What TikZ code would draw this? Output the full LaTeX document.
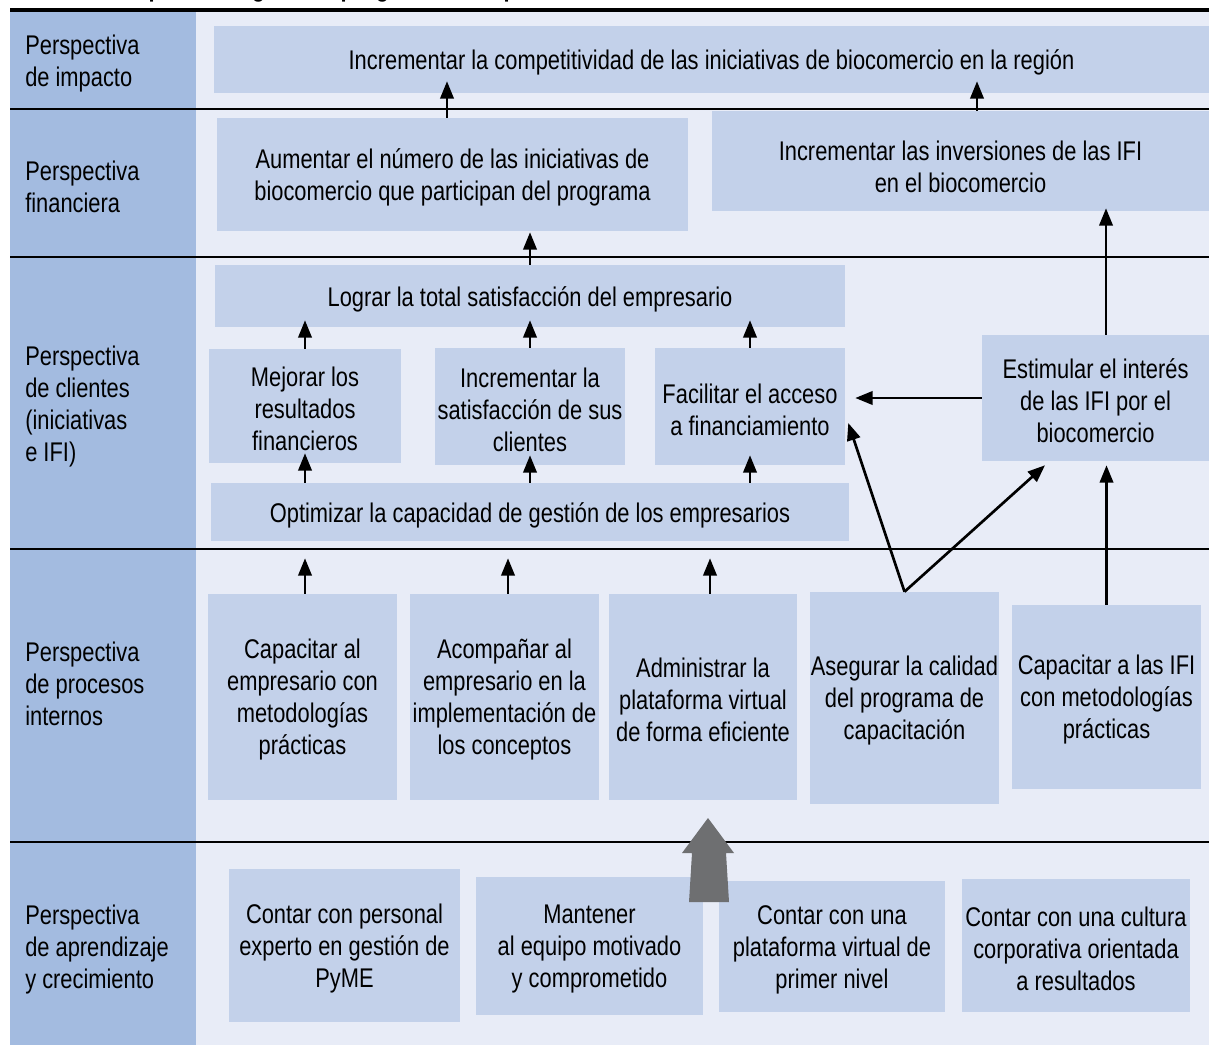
\documentclass[tikz,border=0pt]{standalone}
\usepackage{fontspec}
\setmainfont{Liberation Sans}[FakeStretch=0.81]
\usetikzlibrary{arrows.meta,calc}
\definecolor{leftc}{RGB}{163,187,224}
\definecolor{bgc}{RGB}{232,236,247}
\definecolor{boxc}{RGB}{195,209,234}
\definecolor{bigarrow}{RGB}{110,111,113}
\newcommand{\boxfont}{\fontsize{20.25pt}{24pt}\selectfont}
\tikzset{
  box/.style={fill=boxc, draw=none, inner sep=0pt},
  txt/.style={inner sep=0pt, align=center, font=\boxfont, text=black},
  rowlabel/.style={inner sep=0pt, align=left, anchor=west, font=\boxfont, text=black},
  arr/.style={line width=2pt, -{Triangle[length=13pt,width=10pt]}},
  sepline/.style={line width=1.7pt},
}
% filled box #1 centred at (#2,#3), size #4 x #5, with its text #6
\newcommand{\mapbox}[6]{%
  \node[box, minimum width=#4, minimum height=#5] (#1) at (#2,#3) {};
  \node[txt] (#1t) at ($(#1.center)+(0,3)$) {#6};}
\begin{document}
\begin{tikzpicture}[x=0.75pt, y=-0.75pt]
\useasboundingbox (0,0) rectangle (1209,1045);
% background bands
\fill[white] (0,0) rectangle (1209,1045);
\fill[bgc] (196,10) rectangle (1209,1045);
\fill[leftc] (10,10) rectangle (196,1045);
% title (clipped at the top edge)
\begin{scope}
\clip (0,0) rectangle (1209,1045);
\node[inner sep=0pt, anchor=base west, font=\fontsize{20.25pt}{24pt}\selectfont\bfseries] (title) at (118,-3) {Mapa estratégico del programa de capacitación};
\end{scope}
% row separators
\draw[line width=2.3pt] (10,10) -- (1209,10);
\foreach \yy in {109,257,549,842} \draw[sepline] (10,\yy) -- (1209,\yy);

% row labels
\node[rowlabel] (l1) at (25,64) {Perspectiva\\de impacto};
\node[rowlabel] (l2) at (25,187) {Perspectiva\\financiera};
\node[rowlabel] (l3) at (25,407) {Perspectiva\\de clientes\\(iniciativas\\e IFI)};
\node[rowlabel] (l4) at (25,684) {Perspectiva\\de procesos\\internos};
\node[rowlabel] (l5) at (25,950) {Perspectiva\\de aprendizaje\\y crecimiento};

% impact
\mapbox{imp}{711.5}{59.5}{746.25pt}{50.25pt}{Incrementar la competitividad de las iniciativas de biocomercio en la región}
% financial
\mapbox{fin1}{452.5}{174.5}{353.25pt}{84.75pt}{Aumentar el número de las iniciativas de\\biocomercio que participan del programa}
\node[box, minimum width=372.75pt, minimum height=75pt] (fin2) at (960.5,161) {};
\node[txt] (fin2t) at ($(fin2.center)+(0,6)$) {Incrementar las inversiones de las IFI\\en el biocomercio};
% clients
\mapbox{cl0}{530}{296}{472.5pt}{46.5pt}{Lograr la total satisfacción del empresario}
\mapbox{cl1}{305}{406}{144pt}{85.5pt}{Mejorar los\\resultados\\financieros}
\mapbox{cl2}{530}{406.5}{142.5pt}{87.75pt}{Incrementar la\\satisfacción de sus\\clientes}
\mapbox{cl3}{750}{406.5}{142.5pt}{87.75pt}{Facilitar el acceso\\a financiamiento}
\mapbox{cl4}{530}{512}{478.5pt}{43.5pt}{Optimizar la capacidad de gestión de los empresarios}
\mapbox{cl5}{1095.5}{398}{170.25pt}{94.5pt}{Estimular el interés\\de las IFI por el\\biocomercio}
% internal processes
\mapbox{pr1}{302.5}{697}{141.75pt}{154.5pt}{Capacitar al\\empresario con\\metodologías\\prácticas}
\mapbox{pr2}{504.5}{697}{141.75pt}{154.5pt}{Acompañar al\\empresario en la\\implementación de\\los conceptos}
\mapbox{pr3}{703}{697}{141pt}{154.5pt}{Administrar la\\plataforma virtual\\de forma eficiente}
\mapbox{pr4}{904.5}{698}{141.75pt}{159pt}{Asegurar la calidad\\del programa de\\capacitación}
\mapbox{pr5}{1106.5}{697}{141.75pt}{138pt}{Capacitar a las IFI\\con metodologías\\prácticas}
% learning and growth
\mapbox{ap1}{344.5}{945.5}{173.25pt}{114.75pt}{Contar con personal\\experto en gestión de\\PyME}
\mapbox{ap2}{589.5}{946}{170.25pt}{103.5pt}{Mantener\\al equipo motivado\\y comprometido}
\mapbox{ap3}{832}{946.5}{169.5pt}{98.25pt}{Contar con una\\plataforma virtual de\\primer nivel}
\mapbox{ap4}{1076}{945.5}{171pt}{99.75pt}{Contar con una cultura\\corporativa orientada\\a resultados}

% cause-effect links
\draw[arr] ($(fin1.north)+(-5.5,0)$) -- ($(fin1.north |- imp.south)+(-5.5,-12)$);
\draw[arr] ($(fin2.north)+(16.5,0)$) -- ($(fin2.north |- imp.south)+(16.5,-12)$);
\draw[arr] (cl0.north) -- ($(cl0.north |- fin1.south)+(0,1)$);
\draw[arr] ($(cl5.north)+(10.5,0)$) -- ($(cl5.north |- fin2.south)+(10.5,-3)$);
\foreach \n in {cl1,cl2,cl3} {
  \draw[arr] (\n.north) -- ($(\n.north |- cl0.south)+(0,-7)$);
  \draw[arr] (\n.south |- cl4.north) -- ($(\n.south)+(0,-10)$);
}
\draw[arr] ($(pr1.north)+(2.5,0)$) -- ($(pr1.north |- cl4.south)+(2.5,17)$);
\draw[arr] ($(pr2.north)+(3.5,0)$) -- ($(pr2.north |- cl4.south)+(3.5,17)$);
\draw[arr] ($(pr3.north)+(7,0)$) -- ($(pr3.north |- cl4.south)+(7,17)$);
\draw[arr] (cl5.west) -- ($(cl5.west -| cl3.east)+(10,0)$);
\draw[arr] (pr4.north) -- ($(cl3.east)+(3,16.5)$);
\draw[arr] (pr4.north) -- ($(cl5.south)+(-50.5,4)$);
\draw[arr] (pr5.north) -- ($(pr5.north |- cl5.south)+(0,4)$);

% block arrow from learning to processes
\fill[bigarrow] (689,902) -- (692,853) -- (682,853) -- (708,818) -- (734,853) -- (726,853) -- (729,902) -- cycle;
\end{tikzpicture}
\end{document}
